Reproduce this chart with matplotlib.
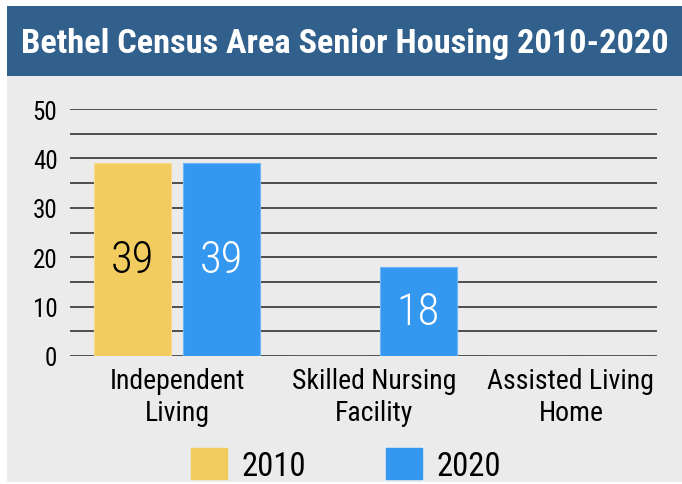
import matplotlib.pyplot as plt
import matplotlib.patches as mpatches
import numpy as np
from matplotlib import font_manager

categories = ["Independent\nLiving", "Skilled Nursing\nFacility", "Assisted Living\nHome"]
years = ["2010", "2020"]
values_2010 = [39, 0, 0]
values_2020 = [39, 18, 0]
yticks = [0, 10, 20, 30, 40, 50]

names = {f.name for f in font_manager.fontManager.ttflist}
narrow = [n for n in ["Liberation Sans Narrow", "Roboto Condensed", "Open Sans Condensed"] if n in names]
plt.rcParams['font.family'] = narrow + ['DejaVu Sans']
plt.rcParams['font.stretch'] = 'condensed'

W, H = 682, 485
fig = plt.figure(figsize=(W / 100, H / 100), dpi=100)
fig.patch.set_facecolor("white")

# gray panel and title bar
panel = fig.add_axes([7 / W, (H - 483) / H, 675 / W, (483 - 77) / H])
panel.set_facecolor("#ebebeb")
panel.set_xticks([])
panel.set_yticks([])
for s in panel.spines.values():
    s.set_visible(False)

bar = fig.add_axes([7 / W, (H - 77) / H, 675 / W, 70 / H])
bar.set_facecolor("#30608b")
bar.set_xticks([])
bar.set_yticks([])
for s in bar.spines.values():
    s.set_visible(False)
title = bar.text(0.5, 0.47, "Bethel Census Area Senior Housing 2010-2020", color="white",
                 fontsize=25, fontweight="bold", ha="center", va="center", transform=bar.transAxes)

# main chart
ax = fig.add_axes([70 / W, (H - 357) / H, (657 - 70) / W, (357 - 110) / H])
ax.patch.set_alpha(0)
x = np.arange(len(categories))
w = 0.39
b1 = ax.bar(x - 0.225, values_2010, w, color="#f2cc5e", edgecolor="#f7dc90", linewidth=0.8, zorder=3)
b2 = ax.bar(x + 0.225, values_2020, w, color="#3498f0", edgecolor="#6cb6f5", linewidth=0.8, zorder=3)

for rects, vals, col in [(b1, values_2010, "black"), (b2, values_2020, "white")]:
    for r, v in zip(rects, vals):
        if v > 0:
            ax.text(r.get_x() + r.get_width() / 2, v / 2, str(v), ha="center", va="center",
                    fontsize=32, fontweight="light", color=col, zorder=4)

ax.set_ylim(0, 50)
ax.set_xlim(-0.543, 2.437)
ax.set_yticks(yticks)
ax.set_yticks(np.arange(5, 50, 10), minor=True)
ax.grid(axis="y", which="both", color="#333333", linewidth=1.2, zorder=1)
ax.tick_params(axis="y", which="both", length=0, labelsize=18, pad=9)
ax.tick_params(axis="x", length=0, labelsize=20, pad=8)
ax.set_xticks(x)
ax.set_xticklabels(categories, linespacing=1.25)
ax.spines[:].set_visible(False)
ax.axhline(0, color="#555555", linewidth=2, zorder=2)

handles = [mpatches.Patch(color="#f2cc5e"), mpatches.Patch(color="#3498f0")]
fig.legend(handles, years, loc="center", bbox_to_anchor=(346 / W, 1 - 466 / H), ncol=2,
           frameon=False, fontsize=23.5, handlelength=1.1, handleheight=1.1,
           handletextpad=0.45, columnspacing=2.45)

# shrink title if it does not fit in the bar
fig.canvas.draw()
tw = title.get_window_extent().width
if tw > 650:
    title.set_fontsize(25 * 650 / tw)

fig.savefig("out.png", dpi=100)
